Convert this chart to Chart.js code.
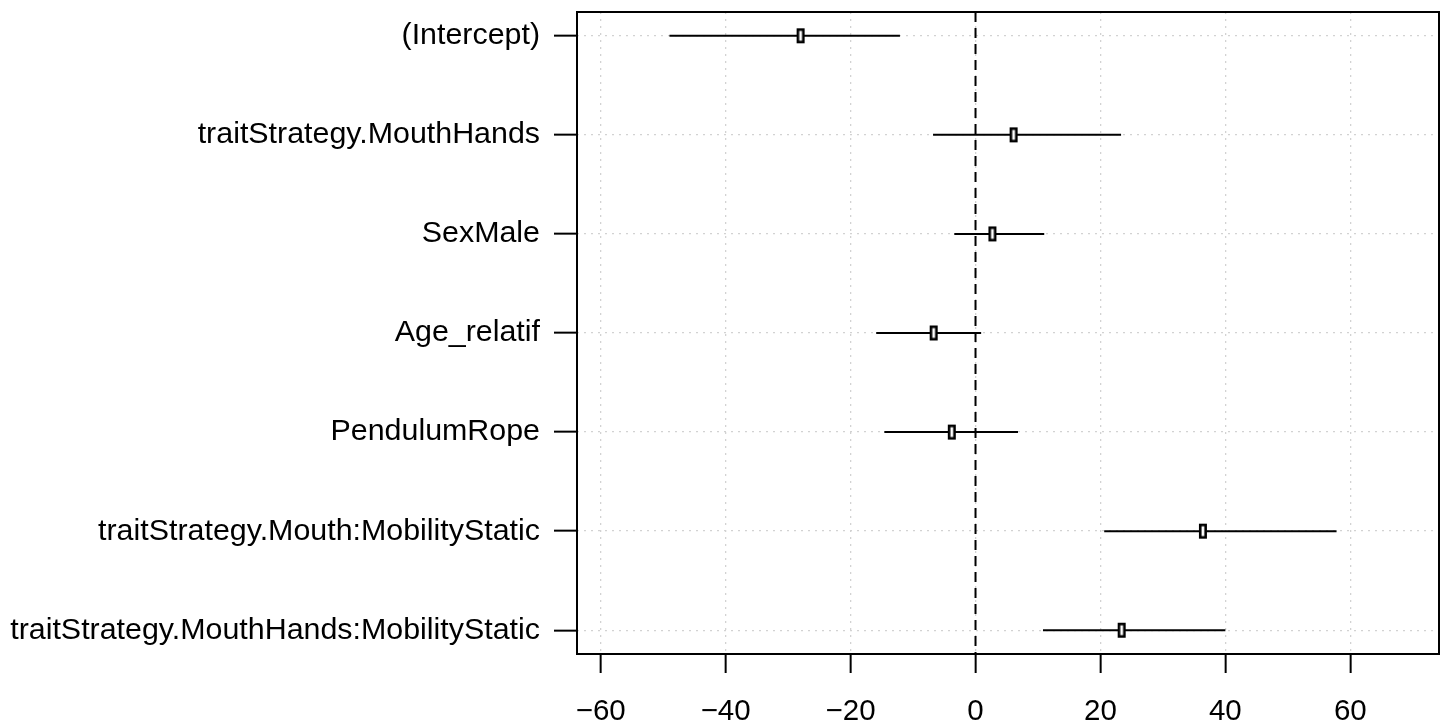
<!DOCTYPE html>
<html>
<head>
<meta charset="utf-8">
<script src="https://cdn.jsdelivr.net/npm/chart.js@4"></script>
<style>
  html, body { margin: 0; padding: 0; background: #fff; }
</style>
</head>
<body>
<canvas id="chart" width="1450" height="727"></canvas>
<script>
// coefficient names, top to bottom
const terms = [
  '(Intercept)',
  'traitStrategy.MouthHands',
  'SexMale',
  'Age_relatif',
  'PendulumRope',
  'traitStrategy.Mouth:MobilityStatic',
  'traitStrategy.MouthHands:MobilityStatic'
];
const estimates = [-28.0, 6.1, 2.7, -6.7, -3.8, 36.4, 23.4];
const lower = [-49.0, -6.8, -3.4, -15.9, -14.6, 20.6, 10.8];
const upper = [-12.1, 23.3, 11.0, 0.9, 6.8, 57.8, 40.0];
const xTicks = [-60, -40, -20, 0, 20, 40, 60];

// little open box used as the point marker
function boxMarker() {
  const c = document.createElement('canvas');
  c.width = 10;
  c.height = 17;
  const g = c.getContext('2d');
  g.fillStyle = '#fff';
  g.fillRect(1, 1, 8, 15);
  g.strokeStyle = '#000';
  g.lineWidth = 2.6;
  g.strokeRect(2.3, 2.3, 5.4, 12.4);
  return c;
}

const frame = {
  id: 'frame',
  afterDatasetsDraw(chart) {
    const { ctx, chartArea: a } = chart;
    ctx.save();
    ctx.strokeStyle = '#000';
    ctx.lineWidth = 2;
    ctx.strokeRect(a.left, a.top, a.right - a.left, a.bottom - a.top);
    ctx.restore();
  }
};

const datasets = [];
datasets.push({
  type: 'scatter',
  data: estimates.map((v, i) => ({ x: v, y: i + 1 })),
  pointStyle: boxMarker(),
  order: 0
});
terms.forEach((t, i) => {
  datasets.push({
    type: 'line',
    data: [{ x: lower[i], y: i + 1 }, { x: upper[i], y: i + 1 }],
    borderColor: '#000',
    borderWidth: 2,
    pointRadius: 0,
    order: 1
  });
});
datasets.push({
  type: 'line',
  data: [{ x: 0, y: 0.76 }, { x: 0, y: 7.24 }],
  borderColor: '#000',
  borderWidth: 2,
  borderDash: [10, 6],
  pointRadius: 0,
  order: 2
});

new Chart(document.getElementById('chart'), {
  data: { datasets },
  plugins: [frame],
  options: {
    responsive: false,
    animation: false,
    layout: { padding: { top: 12, right: 11, left: 0, bottom: 0 } },
    plugins: { legend: { display: false }, tooltip: { enabled: false } },
    scales: {
      x: {
        type: 'linear',
        min: -63.8,
        max: 74.2,
        afterBuildTicks: (s) => { s.ticks = xTicks.map(v => ({ value: v })); },
        afterFit: (s) => { s.height = 73; s.paddingLeft = 0; s.paddingRight = 0; },
        ticks: {
          color: '#000',
          font: { family: 'Liberation Sans, Arial, sans-serif', size: 29.5 },
          padding: 21,
          maxRotation: 0,
          callback: (v) => String(v).replace('-', '\u2212')
        },
        grid: {
          color: '#d2d2d2',
          lineWidth: 1.3,
          tickColor: '#000',
          tickWidth: 2,
          tickLength: 19
        },
        border: { display: false, dash: [2, 5] }
      },
      y: {
        type: 'linear',
        reverse: true,
        min: 0.76,
        max: 7.24,
        afterBuildTicks: (s) => { s.ticks = terms.map((t, i) => ({ value: i + 1 })); },
        afterFit: (s) => { s.width = 577; s.paddingTop = 0; s.paddingBottom = 0; },
        ticks: {
          color: '#000',
          font: { family: 'Liberation Sans, Arial, sans-serif', size: 30.4 },
          padding: 14,
          callback: (v) => terms[v - 1]
        },
        grid: {
          color: '#d2d2d2',
          lineWidth: 1.3,
          tickColor: '#000',
          tickWidth: 2,
          tickLength: 23
        },
        border: { display: false, dash: [2, 5] }
      }
    }
  }
});
</script>
</body>
</html>
